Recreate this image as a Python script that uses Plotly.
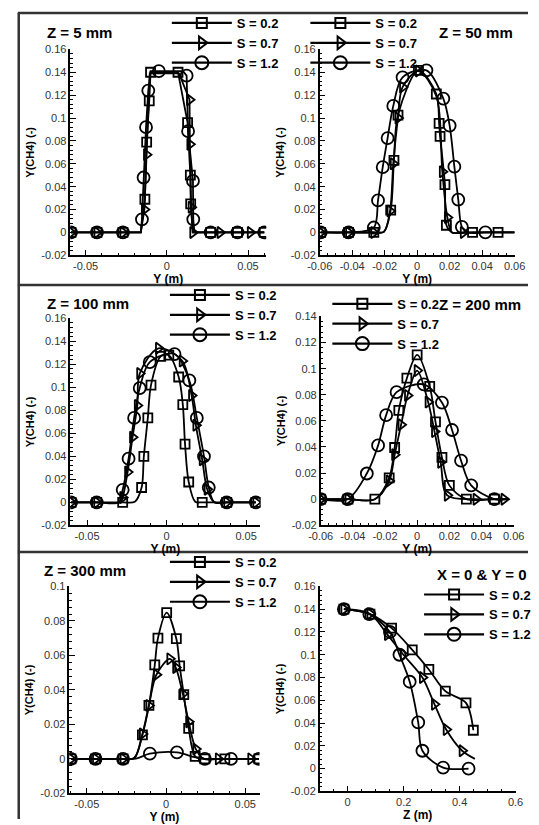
import plotly.graph_objects as go

W, H = 539, 825
FONT = "Liberation Sans, Arial, sans-serif"

# ---------------- data ----------------
# sym: 1 = symbol drawn at this point, 0 = curve point only
# Panel 1: Z = 5 mm
p1_s02_x = [-0.059, -0.043, -0.027, -0.0160, -0.0135, -0.0124, -0.0108, -0.0100, 0.0069, 0.0128, 0.0145, 0.0147, 0.0160, 0.027, 0.0435, 0.060]
p1_s02_y = [0, 0, 0, 0, 0.029, 0.079, 0.115, 0.140, 0.140, 0.096, 0.050, 0.025, 0, 0, 0, 0]
p1_s02_m = [1, 1, 1, 0, 1, 1, 1, 1, 1, 1, 1, 1, 0, 1, 1, 1]
p1_s07_x = [-0.059, -0.043, -0.027, -0.0160, -0.0138, -0.0125, -0.0105, 0.0075, 0.0140, 0.0142, 0.0150, 0.0160, 0.0328, 0.0514, 0.060]
p1_s07_y = [0, 0, 0, 0, 0.020, 0.068, 0.139, 0.139, 0.116, 0.077, 0.022, 0, 0, 0, 0]
p1_s07_m = [1, 1, 1, 0, 1, 1, 0, 0, 1, 1, 1, 1, 1, 1, 0]
p1_s12_x = [-0.059, -0.043, -0.027, -0.0160, -0.0153, -0.0143, -0.0128, -0.0114, -0.0100, -0.0049, 0.0100, 0.0122, 0.0131, 0.0161, 0.0163, 0.0170, 0.027, 0.0435, 0.060]
p1_s12_y = [0, 0, 0, 0, 0.0115, 0.048, 0.092, 0.124, 0.141, 0.141, 0.141, 0.137, 0.0885, 0.045, 0.0115, 0, 0, 0, 0]
p1_s12_m = [1, 1, 1, 0, 1, 1, 1, 1, 0, 1, 0, 1, 1, 1, 1, 0, 1, 1, 1]

# Panel 2: Z = 50 mm
p2_s02_x = [-0.0594, -0.0422, -0.0267, -0.0205, -0.0163, -0.0143, -0.0118, 0.0008, 0.0118, 0.0135, 0.0141, 0.0171, 0.0180, 0.0215, 0.0341, 0.0498, 0.060]
p2_s02_y = [0, 0, 0, 0.0005, 0.0195, 0.063, 0.1026, 0.1417, 0.121, 0.0954, 0.084, 0.0417, 0.0063, 0, 0, 0, 0]
p2_s02_m = [1, 1, 1, 0, 1, 1, 1, 1, 1, 1, 1, 1, 1, 0, 1, 1, 0]
p2_s07_x = [-0.0594, -0.0422, -0.0267, -0.0205, -0.0167, -0.0147, -0.0118, -0.0090, 0.0008, 0.0118, 0.0155, 0.0186, 0.0215, 0.0284, 0.060]
p2_s07_y = [0, 0, 0, 0.0005, 0.0187, 0.060, 0.100, 0.127, 0.141, 0.119, 0.053, 0.013, 0, 0, 0]
p2_s07_m = [1, 1, 1, 0, 1, 1, 1, 1, 1, 0, 1, 1, 0, 1, 0]
p2_s12_x = [-0.0594, -0.0422, -0.0267, -0.0241, -0.0212, -0.0182, -0.0147, -0.0090, 0.0057, 0.0161, 0.0200, 0.0229, 0.0253, 0.0275, 0.0310, 0.0420, 0.060]
p2_s12_y = [0, 0, 0.0043, 0.028, 0.057, 0.0825, 0.1106, 0.1356, 0.1417, 0.117, 0.0934, 0.0575, 0.0287, 0.0049, 0, 0, 0]
p2_s12_m = [1, 1, 1, 1, 1, 1, 1, 1, 1, 1, 1, 1, 1, 1, 0, 1, 0]

# Panel 3: Z = 100 mm
p3_s02_x = [-0.060, -0.0439, -0.0276, -0.0200, -0.0157, -0.0143, -0.0118, -0.0098, -0.0037, 0.0014, 0.0076, 0.0102, 0.0116, 0.0139, 0.0180, 0.0224, 0.0378, 0.0561]
p3_s02_y = [0, 0, 0, 0.0005, 0.0129, 0.040, 0.0734, 0.102, 0.127, 0.128, 0.109, 0.085, 0.0506, 0.0177, 0.0005, 0, 0, 0]
p3_s02_m = [1, 1, 1, 0, 1, 1, 1, 1, 1, 1, 1, 1, 1, 1, 0, 1, 1, 1]
p3_s07_x = [-0.060, -0.0439, -0.0290, -0.0276, -0.0245, -0.0214, -0.0184, -0.0169, -0.0051, 0.0098, 0.0157, 0.0184, 0.0224, 0.0255, 0.0300, 0.0378, 0.0561]
p3_s07_y = [0, 0, 0, 0.0043, 0.0263, 0.0566, 0.0843, 0.112, 0.134, 0.123, 0.093, 0.067, 0.037, 0.0114, 0, 0, 0]
p3_s07_m = [1, 1, 0, 1, 1, 1, 1, 1, 1, 1, 1, 1, 1, 1, 0, 1, 1]
p3_s12_x = [-0.060, -0.0439, -0.0300, -0.0276, -0.0239, -0.0204, -0.0169, -0.0106, 0.0050, 0.0143, 0.0190, 0.0235, 0.0265, 0.0300, 0.0378, 0.0561]
p3_s12_y = [0, 0, 0, 0.0109, 0.038, 0.0734, 0.0994, 0.122, 0.129, 0.106, 0.0734, 0.040, 0.0129, 0, 0, 0]
p3_s12_m = [1, 1, 0, 1, 1, 1, 1, 1, 1, 1, 1, 1, 1, 0, 1, 1]

# Panel 4: Z = 200 mm
p4_s02_x = [-0.060, -0.043, -0.0263, -0.0174, -0.0140, -0.0114, -0.0064, 0.0, 0.0078, 0.0114, 0.0154, 0.0200, 0.0306, 0.048, 0.057]
p4_s02_y = [0, 0, 0, 0.0164, 0.0396, 0.068, 0.0927, 0.1106, 0.0864, 0.0593, 0.032, 0.0106, 0, 0, 0]
p4_s02_m = [1, 1, 1, 1, 1, 1, 1, 1, 1, 1, 1, 1, 1, 1, 0]
p4_s07_x = [-0.060, -0.043, -0.0263, -0.0174, -0.0140, -0.0100, -0.0060, 0.0, 0.0068, 0.0108, 0.0146, 0.0187, 0.0366, 0.054, 0.057]
p4_s07_y = [0, 0, 0, 0.0139, 0.034, 0.057, 0.0795, 0.0985, 0.0745, 0.0518, 0.0283, 0.003, 0, 0, 0]
p4_s07_m = [1, 1, 0, 1, 1, 1, 1, 1, 1, 1, 1, 1, 1, 1, 0]
p4_s12_x = [-0.060, -0.0432, -0.0313, -0.0243, -0.0193, -0.0128, 0.0041, 0.0154, 0.0217, 0.0273, 0.0336, 0.048, 0.057]
p4_s12_y = [0, 0, 0.0197, 0.0412, 0.0644, 0.082, 0.0879, 0.074, 0.053, 0.0295, 0.0106, 0, 0]
p4_s12_m = [1, 1, 1, 1, 1, 1, 1, 1, 1, 1, 1, 1, 0]

# Panel 5: Z = 300 mm
p5_s02_x = [-0.060, -0.0445, -0.0271, -0.0200, -0.0149, -0.0108, -0.0071, -0.0051, 0.0004, 0.0065, 0.0086, 0.0112, 0.0143, 0.0184, 0.0245, 0.0371, 0.0586]
p5_s02_y = [0, 0, 0, 0.0005, 0.0139, 0.031, 0.0545, 0.070, 0.0848, 0.0697, 0.0539, 0.0373, 0.0177, 0.0015, 0, 0, 0]
p5_s02_m = [1, 1, 1, 0, 1, 1, 1, 1, 1, 1, 1, 1, 1, 1, 1, 1, 1]
p5_s07_x = [-0.060, -0.0445, -0.0271, -0.0200, -0.0149, -0.0108, -0.0061, 0.0024, 0.0061, 0.0106, 0.0143, 0.0188, 0.0240, 0.0330, 0.0535, 0.0586]
p5_s07_y = [0, 0, 0, 0.0005, 0.0145, 0.031, 0.0488, 0.0580, 0.053, 0.0377, 0.0215, 0.0057, 0, 0, 0, 0]
p5_s07_m = [1, 1, 1, 0, 1, 1, 1, 1, 1, 1, 1, 1, 0, 1, 1, 0]
p5_s12_x = [-0.060, -0.0445, -0.0271, -0.0190, -0.0102, 0.0069, 0.0180, 0.0245, 0.0410, 0.0586]
p5_s12_y = [0, 0, 0, 0.0002, 0.0030, 0.0038, 0.0010, 0, 0, 0]
p5_s12_m = [1, 1, 1, 0, 1, 1, 0, 1, 1, 1]

# Panel 6: X = 0 & Y = 0 (axial profile)
p6_s02_x = [-0.0136, 0.0795, 0.157, 0.2307, 0.290, 0.349, 0.4227, 0.449]
p6_s02_y = [0.140, 0.1357, 0.1234, 0.1043, 0.0871, 0.068, 0.0577, 0.0337]
p6_s02_m = [1, 1, 1, 1, 1, 1, 1, 1]
p6_s07_x = [-0.0136, 0.0795, 0.142, 0.199, 0.267, 0.310, 0.352, 0.409, 0.4545]
p6_s07_y = [0.140, 0.136, 0.1177, 0.100, 0.080, 0.0566, 0.0343, 0.0157, 0.0086]
p6_s07_m = [1, 1, 1, 1, 1, 1, 1, 1, 0]
p6_s12_x = [-0.0136, 0.0773, 0.151, 0.185, 0.2216, 0.252, 0.267, 0.341, 0.432]
p6_s12_y = [0.140, 0.1357, 0.120, 0.100, 0.0763, 0.0406, 0.0157, 0.0009, 0]
p6_s12_m = [1, 1, 1, 1, 1, 1, 1, 1, 1]

series_names = ["S = 0.2", "S = 0.7", "S = 1.2"]
panel_titles = ["Z = 5 mm", "Z = 50 mm", "Z = 100 mm", "Z = 200 mm", "Z = 300 mm", "X = 0 & Y = 0"]
x_titles = ["Y (m)", "Y (m)", "Y (m)", "Y (m)", "Y (m)", "Z (m)"]
y_title = "Y(CH4) (-)"

xt_a_vals = [-0.05, 0, 0.05]
xt_a_text = ["-0.05", "0", "0.05"]
xt_b_vals = [-0.06, -0.04, -0.02, 0, 0.02, 0.04, 0.06]
xt_b_text = ["-0.06", "-0.04", "-0.02", "0", "0.02", "0.04", "0.06"]
xt_c_vals = [0, 0.2, 0.4, 0.6]
xt_c_text = ["0", "0.2", "0.4", "0.6"]
yt_16_vals = [-0.02, 0, 0.02, 0.04, 0.06, 0.08, 0.1, 0.12, 0.14, 0.16]
yt_16_text = ["-0.02", "0", "0.02", "0.04", "0.06", "0.08", "0.1", "0.12", "0.14", "0.16"]
yt_14_vals = yt_16_vals[:-1]
yt_14_text = yt_16_text[:-1]
yt_10_vals = [-0.02, 0, 0.02, 0.04, 0.06, 0.08, 0.1]
yt_10_text = ["-0.02", "0", "0.02", "0.04", "0.06", "0.08", "0.1"]

# ---------------- layout geometry (pixels) ----------------
# leg = (x of legend line start, y of middle legend row)
panels = [
    dict(xd=(60, 265), yd=(44, 253), xr=[-0.0594, 0.0612], yr=[-0.02, 0.16], xt=(xt_a_vals, xt_a_text), xm=0.01, yt=(yt_16_vals, yt_16_text), ym=0.004,
         data=[(p1_s02_x, p1_s02_y, p1_s02_m), (p1_s07_x, p1_s07_y, p1_s07_m), (p1_s12_x, p1_s12_y, p1_s12_m)], shape="linear",
         title=(33, 27), leg=(160, 37)),
    dict(xd=(321, 525), yd=(44, 253), xr=[-0.06, 0.06], yr=[-0.02, 0.16], xt=(xt_b_vals, xt_b_text), xm=0.005, yt=(yt_16_vals, yt_16_text), ym=0.004,
         data=[(p2_s02_x, p2_s02_y, p2_s02_m), (p2_s07_x, p2_s07_y, p2_s07_m), (p2_s12_x, p2_s12_y, p2_s12_m)], shape="spline",
         title=(444, 27), leg=(305, 37)),
    dict(xd=(60, 259), yd=(317, 527), xr=[-0.0605, 0.059], yr=[-0.02, 0.16], xt=(xt_a_vals, xt_a_text), xm=0.01, yt=(yt_16_vals, yt_16_text), ym=0.004,
         data=[(p3_s02_x, p3_s02_y, p3_s02_m), (p3_s07_x, p3_s07_y, p3_s07_m), (p3_s12_x, p3_s12_y, p3_s12_m)], shape="spline",
         title=(33, 302), leg=(158, 313)),
    dict(xd=(322, 524), yd=(315, 527), xr=[-0.06, 0.06], yr=[-0.02, 0.14], xt=(xt_b_vals, xt_b_text), xm=0.005, yt=(yt_14_vals, yt_14_text), ym=0.004,
         data=[(p4_s02_x, p4_s02_y, p4_s02_m), (p4_s07_x, p4_s07_y, p4_s07_m), (p4_s12_x, p4_s12_y, p4_s12_m)], shape="spline",
         title=(444, 303), leg=(328, 322)),
    dict(xd=(59, 258), yd=(589, 799), xr=[-0.061, 0.059], yr=[-0.02, 0.10], xt=(xt_a_vals, xt_a_text), xm=0.01, yt=(yt_10_vals, yt_10_text), ym=0.004,
         data=[(p5_s02_x, p5_s02_y, p5_s02_m), (p5_s07_x, p5_s07_y, p5_s07_m), (p5_s12_x, p5_s12_y, p5_s12_m)], shape="spline",
         title=(30, 573), leg=(158, 584)),
    dict(xd=(321, 526), yd=(589, 797), xr=[-0.1, 0.6], yr=[-0.02, 0.16], xt=(xt_c_vals, xt_c_text), xm=0.05, yt=(yt_16_vals, yt_16_text), ym=0.004,
         data=[(p6_s02_x, p6_s02_y, p6_s02_m), (p6_s07_x, p6_s07_y, p6_s07_m), (p6_s12_x, p6_s12_y, p6_s12_m)], shape="spline",
         title=(442, 577), leg=(424, 617)),
]

symbols = ["square-open", "triangle-right-open", "circle-open"]
sizes = [9, 10, 12]


def fx(p):
    return p / W


def fy(p):
    return 1 - p / H


fig = go.Figure()
annotations = []

for i, P in enumerate(panels):
    n = i + 1
    xa = "x" if n == 1 else f"x{n}"
    ya = "y" if n == 1 else f"y{n}"
    lg = "legend" if n == 1 else f"legend{n}"
    for k, (xs, ys, ms) in enumerate(P["data"]):
        fig.add_trace(go.Scatter(
            x=xs, y=ys, mode="lines+markers", xaxis=xa, yaxis=ya, showlegend=False,
            line=dict(color="black", width=1.8, shape=P["shape"], smoothing=0.9),
            marker=dict(symbol=symbols[k], size=[sizes[k] if m else 0 for m in ms], color="black",
                        opacity=1, line=dict(width=1.8, color="black")),
            hoverinfo="skip",
        ))
    for k in range(3):
        fig.add_trace(go.Scatter(
            x=[None], y=[None], mode="lines+markers", xaxis=xa, yaxis=ya, legend=lg, name=series_names[k],
            line=dict(color="black", width=2.2),
            marker=dict(symbol=symbols[k], size=sizes[k] + 1, color="black", opacity=1,
                        line=dict(width=2, color="black")),
        ))

    axis_common = dict(showline=True, linecolor="black", linewidth=1.5, ticks="inside", ticklen=6,
                       tickcolor="black", tickwidth=1, showgrid=False, zeroline=False,
                       tickfont=dict(family=FONT, size=11, color="#333"))
    fig.layout[("xaxis" if n == 1 else f"xaxis{n}")] = dict(
        domain=[fx(P["xd"][0]), fx(P["xd"][1])], anchor=ya, range=P["xr"],
        tickmode="array", tickvals=P["xt"][0], ticktext=P["xt"][1],
        minor=dict(dtick=P["xm"], ticks="inside", ticklen=3, tickcolor="black", showgrid=False, tick0=0),
        title=dict(text=f"<b>{x_titles[i]}</b>", font=dict(family=FONT, size=12, color="black"), standoff=2),
        **axis_common)
    fig.layout[("yaxis" if n == 1 else f"yaxis{n}")] = dict(
        domain=[fy(P["yd"][1]), fy(P["yd"][0])], anchor=xa, range=P["yr"],
        tickmode="array", tickvals=P["yt"][0], ticktext=P["yt"][1],
        minor=dict(dtick=P["ym"], ticks="inside", ticklen=3, tickcolor="black", showgrid=False, tick0=0),
        title=dict(text=f"<b>{y_title}</b>", font=dict(family=FONT, size=11, color="black"), standoff=4),
        **axis_common)

    fig.layout[lg] = dict(
        x=fx(P["leg"][0] + 1), y=fy(P["leg"][1] - 35), xanchor="left", yanchor="top",
        bgcolor="rgba(0,0,0,0)", borderwidth=0, itemwidth=60, tracegroupgap=0,
        font=dict(family=FONT, size=13, color="black", weight="bold"),
    )

    annotations.append(dict(
        text=f"<b>{panel_titles[i]}</b>", xref="paper", yref="paper",
        x=fx(P["title"][0]), y=fy(P["title"][1]), xanchor="left", yanchor="middle",
        showarrow=False, font=dict(family=FONT, size=15, color="black")))

frame = dict(type="line", xref="paper", yref="paper", line=dict(color="#333", width=2.5))
shapes = [
    dict(frame, x0=fx(5), x1=1, y0=fy(7), y1=fy(7)),
    dict(frame, x0=fx(6), x1=fx(6), y0=fy(7), y1=0),
    dict(frame, x0=fx(5), x1=1, y0=fy(283), y1=fy(283)),
    dict(frame, x0=fx(5), x1=1, y0=fy(554), y1=fy(554)),
]

fig.update_layout(
    width=W, height=H, margin=dict(l=0, r=0, t=0, b=0),
    paper_bgcolor="white", plot_bgcolor="white",
    annotations=annotations, shapes=shapes,
    font=dict(family=FONT),
)

fig.write_html("out.html")
